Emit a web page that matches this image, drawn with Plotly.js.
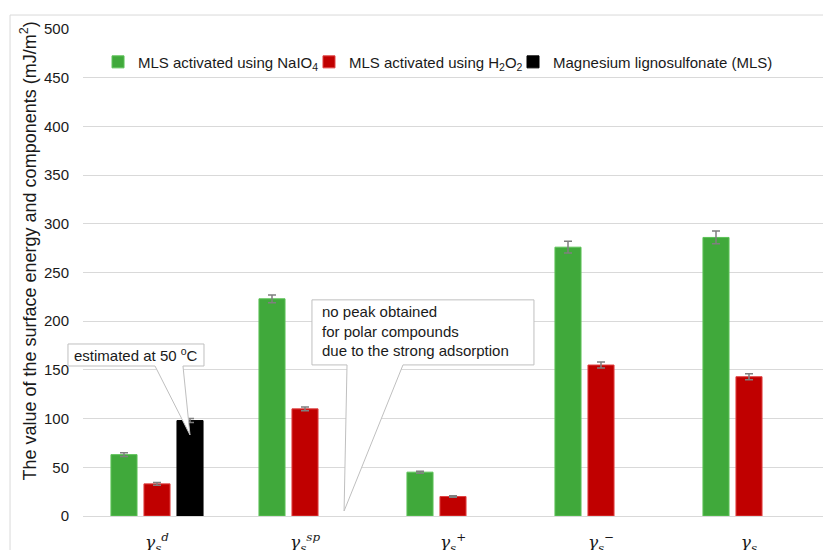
<!DOCTYPE html>
<html>
<head>
<meta charset="utf-8">
<script src="https://cdn.plot.ly/plotly-3.0.1.min.js"></script>
<style>html,body{margin:0;padding:0;background:#fff;}#chart{width:823px;height:550px;}</style>
</head>
<body>
<div id="chart"></div>
<script>
// Data
var categories = ['gd', 'gsp', 'gplus', 'gminus', 'gs'];
var tickLabels = [
  '<i>γ<sub>s</sub><sup>d</sup></i>',
  '<i>γ<sub>s</sub><sup>sp</sup></i>',
  '<i>γ<sub>s</sub><sup>+</sup></i>',
  '<i>γ<sub>s</sub><sup>−</sup></i>',
  '<i>γ<sub>s</sub></i>'
];
var naio4Values = [63, 223, 45, 276, 286];
var naio4Errors = [2, 4, 1, 6, 6.5];
var h2o2Values = [33, 110, 20, 155, 143];
var h2o2Errors = [1.5, 2, 0.8, 3, 3];
var mlsValues = [98, null, null, null, null];
var mlsErrors = [2, 0, 0, 0, 0];
var seriesNames = [
  'MLS activated using NaIO<sub>4</sub>',
  'MLS activated using H<sub>2</sub>O<sub>2</sub>',
  'Magnesium lignosulfonate (MLS)'
];

var errStyle = function (arr) {
  return {type: 'data', array: arr, visible: true, color: '#7f7f7f', thickness: 1.5, width: 4};
};

var traces = [
  {type: 'bar', name: seriesNames[0], x: categories, y: naio4Values, error_y: errStyle(naio4Errors),
   legend: 'legend',
   marker: {color: '#40a93b', line: {color: '#5cc257', width: 1}}},
  {type: 'bar', name: seriesNames[1], x: categories, y: h2o2Values, error_y: errStyle(h2o2Errors),
   legend: 'legend2',
   marker: {color: '#c00000', line: {color: '#e04040', width: 1}}},
  {type: 'bar', name: seriesNames[2], x: categories, y: mlsValues, error_y: errStyle(mlsErrors),
   legend: 'legend3',
   marker: {color: '#000000', line: {color: '#000000', width: 1}}}
];

function legendAt(xp) {
  return {orientation: 'h', x: xp, xanchor: 'left', y: 0.932, yanchor: 'middle',
          font: {size: 15, color: '#1a1a1a'}, bgcolor: 'rgba(0,0,0,0)', borderwidth: 0};
}

var layout = {
  width: 823, height: 550,
  margin: {l: 83, r: 0, t: 29, b: 34},
  paper_bgcolor: '#ffffff', plot_bgcolor: '#ffffff',
  font: {family: 'Liberation Sans, Arial, sans-serif', size: 15, color: '#1a1a1a'},
  barmode: 'group', bargap: 0.331, bargroupgap: 0.21,
  showlegend: true,
  legend: legendAt(0.0203),
  legend2: legendAt(0.3054),
  legend3: legendAt(0.5811),
  xaxis: {type: 'category', tickvals: categories, ticktext: tickLabels,
          tickfont: {family: 'DejaVu Serif, serif', size: 17, color: '#1a1a1a'},
          showgrid: false, showline: false, zeroline: false, ticks: '', ticklabelstandoff: 14,
          range: [-0.5, 4.5], fixedrange: true},
  yaxis: {range: [0, 500], dtick: 50, showgrid: true, gridcolor: '#d9d9d9', gridwidth: 1,
          zeroline: true, zerolinecolor: '#d9d9d9', zerolinewidth: 1,
          showline: false, ticks: '', ticklabelstandoff: 13,
          tickfont: {size: 15, color: '#1a1a1a'}},
  shapes: [
    {type: 'rect', xref: 'paper', yref: 'paper', x0: -0.0986, x1: 1.05, y0: -0.1, y1: 1.0287,
     line: {color: '#d9d9d9', width: 1}, fillcolor: 'rgba(0,0,0,0)', layer: 'below'},
    {type: 'path', xref: 'paper', yref: 'paper', layer: 'above',
     path: 'M -0.0203,0.3532 L 0.1635,0.3532 L 0.1635,0.3080 L 0.1351,0.3080 L 0.1446,0.1663 L 0.0973,0.3080 L -0.0203,0.3080 Z',
     fillcolor: '#ffffff', line: {color: '#bfbfbf', width: 1}},
    {type: 'path', xref: 'x', yref: 'y', layer: 'above',
     path: 'M 1.047,221.9 L 2.547,221.9 L 2.547,155.1 L 1.662,155.1 L 1.264,5.1 L 1.284,155.1 L 1.047,155.1 Z',
     fillcolor: '#ffffff', line: {color: '#bfbfbf', width: 1}}
  ],
  annotations: [
    {xref: 'paper', yref: 'paper', x: -0.073, y: 0.545, xanchor: 'center', yanchor: 'middle',
     textangle: -90, showarrow: false, font: {size: 18, color: '#1a1a1a'},
     text: 'The value of the surface energy and components (mJ/m<sup>2</sup>)'},
    {xref: 'paper', yref: 'paper', x: -0.0149, y: 0.3306, xanchor: 'left', yanchor: 'middle', showarrow: false,
     font: {size: 15, color: '#1a1a1a'}, text: 'estimated at 50 <sup>o</sup>C'},
    {xref: 'x', yref: 'y', x: 1.101, y: 190.1, xanchor: 'left', yanchor: 'middle', align: 'left', showarrow: false,
     font: {size: 15, color: '#1a1a1a'},
     text: 'no peak obtained<br>for polar compounds<br>due to the strong adsorption'}
  ]
};

Plotly.newPlot('chart', traces, layout, {displayModeBar: false, staticPlot: true});
</script>
</body>
</html>
